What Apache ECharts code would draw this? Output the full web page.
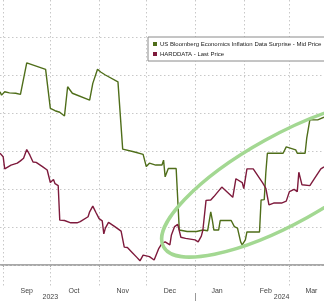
<!DOCTYPE html>
<html><head><meta charset="utf-8">
<script src="https://cdn.jsdelivr.net/npm/echarts@6/dist/echarts.min.js"></script>
<style>html,body{margin:0;padding:0;background:#fff}#c{width:324px;height:301px}</style>
</head><body><div id="c"></div>
<script>
// Axis range (daily categories)
const startDate = '2023-08-30';
const endDate = '2024-03-23';
// Month tick labels (placed mid-month)
const monthLabelDates = ['2023-09-16','2023-10-16','2023-11-16','2023-12-16','2024-01-15','2024-02-15','2024-03-15'];
const monthLabels = ['Sep','Oct','Nov','Dec','Jan','Feb','Mar'];
const yearLabelDates = ['2023-10-01','2024-02-25'];
const yearLabels = ['2023','2024'];
const yearBreakDate = '2024-01-01';
// Horizontal gridline values
const gridValues = [0,10,20,30,40,50,60];

// US Bloomberg Economics Inflation Data Surprise - Mid Price
const greenDates = ['2023-08-30','2023-08-31','2023-09-02','2023-09-05','2023-09-09','2023-09-12','2023-09-13','2023-09-16','2023-09-28',
 '2023-10-01','2023-10-04','2023-10-07','2023-10-10','2023-10-12','2023-10-15','2023-10-26','2023-10-28','2023-10-29','2023-10-31',
 '2023-11-02','2023-11-05','2023-11-13','2023-11-16','2023-11-23','2023-11-29',
 '2023-12-01','2023-12-03','2023-12-07','2023-12-11','2023-12-12','2023-12-13','2023-12-15','2023-12-20','2023-12-22','2023-12-27',
 '2024-01-02','2024-01-06','2024-01-09','2024-01-11','2024-01-12','2024-01-13','2024-01-16','2024-01-17','2024-01-24','2024-01-26','2024-01-28','2024-01-30','2024-01-31',
 '2024-02-02','2024-02-03','2024-02-11','2024-02-12','2024-02-14','2024-02-15','2024-02-16','2024-02-26','2024-02-28',
 '2024-03-05','2024-03-06','2024-03-11','2024-03-12','2024-03-13','2024-03-14','2024-03-15','2024-03-19','2024-03-23'];
const greenValues = [45.6,44.7,45.6,45.3,45.2,44.9,45.2,53.2,51.5,
 41.2,40.6,40.2,39.2,46.9,45.2,43.4,47.8,47.8,51.5,
 50.8,50.0,48.2,30.5,29.8,29.1,
 25.9,26.8,26.3,26.3,27.6,23.2,25.4,25.4,9.2,8.8,
 8.8,9.2,9.0,14.0,11.8,9.2,9.2,11.7,11.7,10.1,9.7,6.1,5.3,
 6.6,8.7,8.7,17.1,17.2,24.2,29.4,29.4,31.1,
 30.3,29.4,29.4,33.3,33.7,38.2,38.6,38.2,38.9];

// HARDDATA - Last Price
const redDates = ['2023-08-30','2023-09-01','2023-09-02','2023-09-06','2023-09-10','2023-09-12','2023-09-14','2023-09-16','2023-09-18','2023-09-20','2023-09-22','2023-09-26','2023-09-27','2023-09-29',
 '2023-10-01','2023-10-03','2023-10-04','2023-10-06','2023-10-07','2023-10-10','2023-10-14','2023-10-18','2023-10-20','2023-10-25','2023-10-26','2023-10-28','2023-10-30',
 '2023-11-01','2023-11-03','2023-11-04','2023-11-05','2023-11-07','2023-11-11','2023-11-15','2023-11-17','2023-11-19','2023-11-22','2023-11-25','2023-11-27','2023-11-29',
 '2023-12-03','2023-12-06','2023-12-09','2023-12-11','2023-12-13','2023-12-16','2023-12-17','2023-12-19','2023-12-21','2023-12-23','2023-12-26',
 '2024-01-01','2024-01-03','2024-01-05','2024-01-06','2024-01-08','2024-01-11','2024-01-13','2024-01-18','2024-01-25','2024-01-27','2024-01-31',
 '2024-02-01','2024-02-03','2024-02-07','2024-02-13','2024-02-15','2024-02-17','2024-02-20','2024-02-25','2024-02-28',
 '2024-03-01','2024-03-04','2024-03-06','2024-03-07','2024-03-09','2024-03-14','2024-03-17','2024-03-21','2024-03-23'];
const redValues = [29.4,28.5,25.3,26.3,26.8,27.4,28.1,30.4,28.9,27.1,27.0,25.9,25.7,25.0,
 21.7,22.5,21.4,20.9,11.8,11.7,11.1,11.1,11.4,12.7,14.0,15.5,13.8,
 12.2,11.6,8.2,9.7,11.2,10.1,8.9,4.7,4.6,3.3,2.0,1.1,2.6,
 2.2,1.3,4.4,5.7,6.1,5.3,7.9,10.1,10.7,7.3,7.0,
 6.6,6.1,7.6,9.2,17.0,17.1,18.0,20.5,17.8,22.7,21.7,
 20.1,25.3,25.3,21.6,20.2,15.8,16.3,16.3,16.8,
 19.3,19.9,19.3,24.4,21.1,20.9,22.8,25.3,25.8];

function fmt(d){const m=d.getUTCMonth()+1, day=d.getUTCDate();return d.getUTCFullYear()+'-'+(m<10?'0':'')+m+'-'+(day<10?'0':'')+day;}
const categories = [];
for (let d = new Date(startDate+'T00:00:00Z'); fmt(d) <= endDate; d = new Date(d.getTime()+86400000)) categories.push(fmt(d));
const isMonthStart = (i, v) => v.slice(8) === '01';

const chart = echarts.init(document.getElementById('c'), null, {renderer:'canvas'});
const option = {
  animation: false,
  backgroundColor: '#ffffff',
  grid: {left: 0, right: 0, top: 0, bottom: 15, containLabel: false},
  legend: {
    orient: 'vertical', left: 148, top: 37,
    itemWidth: 4, itemHeight: 4, itemGap: 4, icon: 'rect',
    backgroundColor: '#ffffff', borderColor: '#8a8a8a', borderWidth: 1,
    padding: [4, 4, 4, 5],
    textStyle: {fontSize: 6, color: '#222', fontFamily: 'Liberation Sans', padding: [0,0,0,-2]},
    data: ['US Bloomberg Economics Inflation Data Surprise - Mid Price', 'HARDDATA - Last Price']
  },
  xAxis: [{
    type: 'category', data: categories, boundaryGap: false,
    axisLine: {show: true, lineStyle: {color: '#a8a8a8', width: 2}},
    axisTick: {show: true, interval: isMonthStart, length: 2, lineStyle: {color: '#a8a8a8'}},
    axisLabel: {interval: (i, v) => monthLabelDates.indexOf(v) >= 0,
      formatter: v => monthLabels[monthLabelDates.indexOf(v)],
      fontSize: 7, color: '#444', margin: 2, fontFamily: 'Liberation Sans'},
    splitLine: {show: true, interval: isMonthStart, lineStyle: {color: '#c8c8c8', type: [1.5, 2.5], width: 1}}
  }, {
    type: 'category', data: categories, boundaryGap: false, position: 'bottom', offset: 7,
    axisLine: {show: false},
    axisTick: {show: true, interval: (i, v) => v === yearBreakDate, length: 9, lineStyle: {color: '#999'}},
    axisLabel: {interval: (i, v) => yearLabelDates.indexOf(v) >= 0,
      formatter: v => yearLabels[yearLabelDates.indexOf(v)],
      fontSize: 7, color: '#444', margin: 1, fontFamily: 'Liberation Sans'},
    splitLine: {show: false}
  }],
  yAxis: {type: 'value', min: -5.53, max: 69.74, show: false, splitLine: {show: false}},
  series: [{
    name: 'US Bloomberg Economics Inflation Data Surprise - Mid Price',
    type: 'line', xAxisIndex: 0, symbol: 'none', color: '#4f6e1a',
    lineStyle: {width: 1.4, color: '#4f6e1a'},
    data: greenDates.map((d, i) => [d, greenValues[i]]),
    z: 3,
    markLine: {silent: true, symbol: 'none', label: {show: false},
      lineStyle: {color: '#c8c8c8', type: [1.5, 2.5], width: 1},
      emphasis: {disabled: true},
      data: gridValues.map(v => ({yAxis: v})), z: 1}
  }, {
    name: 'HARDDATA - Last Price',
    type: 'line', xAxisIndex: 0, symbol: 'none', color: '#7e1a3c',
    lineStyle: {width: 1.4, color: '#7e1a3c'},
    data: redDates.map((d, i) => [d, redValues[i]]),
    z: 3
  }],
  graphic: [{
    type: 'ellipse', x: 286, y: 179, rotation: 29 * Math.PI / 180,
    shape: {cx: 0, cy: 0, rx: 140, ry: 44},
    style: {fill: 'none', stroke: '#a3d892', lineWidth: 3.5},
    silent: true, z: 10
  }]
};
chart.setOption(option);
</script></body></html>
